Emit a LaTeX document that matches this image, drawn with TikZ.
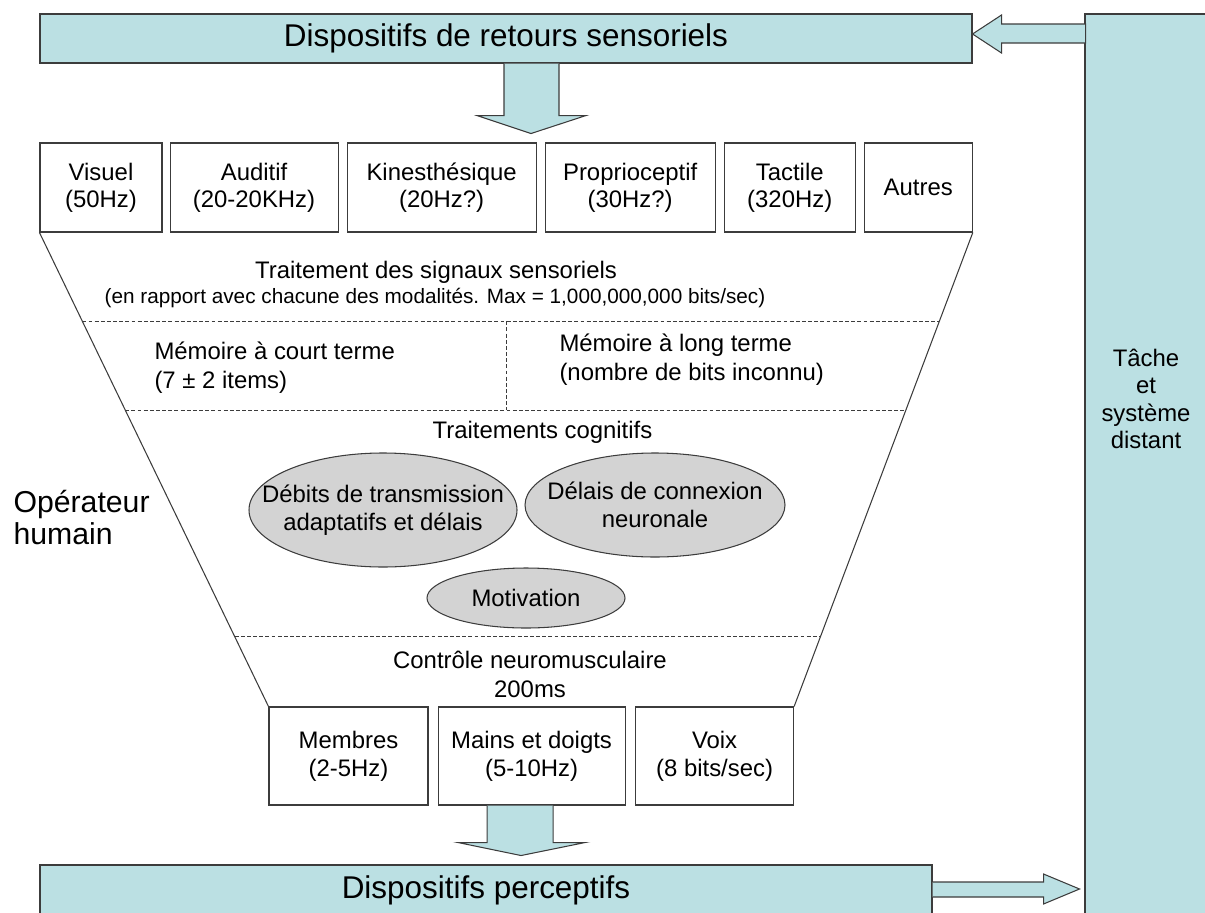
\documentclass[tikz,border=0pt]{standalone}
\usepackage{fontspec}
\setmainfont{Liberation Sans}
\usetikzlibrary{positioning,calc,shapes.geometric}

\definecolor{panelblue}{RGB}{187,224,227}
\definecolor{ovalgray}{RGB}{211,211,211}
\definecolor{edgegray}{RGB}{60,60,60}

\begin{document}
\begin{tikzpicture}[
    line width=0.6pt,
    bar/.style={rectangle, draw=edgegray, fill=panelblue, minimum height=0.98cm, font=\fontsize{17.9}{21}\selectfont},
    sense/.style={rectangle, draw=edgegray, minimum height=1.78cm, align=center, font=\fontsize{13.6}{15.4}\selectfont},
    effector/.style={rectangle, draw=edgegray, minimum height=1.96cm, align=center, font=\fontsize{13.6}{15.8}\selectfont},
    oval/.style={ellipse, draw=edgegray, fill=ovalgray, inner xsep=-1.5cm, inner ysep=-0.6cm, align=center, font=\fontsize{13.6}{16}\selectfont},
    txt/.style={inner sep=0pt, font=\fontsize{13.6}{16.5}\selectfont},
    sep/.style={draw=edgegray, line width=0.5pt, dash pattern=on 2.2pt off 1.3pt},
    blockarrow/.style={draw=edgegray, fill=panelblue, line join=miter}
]
\useasboundingbox (0,0) rectangle (24.1,-18.24);

% Retours sensoriels et systeme distant
\node[bar, minimum width=18.64cm] at (10.12,-0.77) (retours) {Dispositifs de retours sensoriels};
\node[rectangle, draw=edgegray, fill=panelblue, minimum width=2.44cm, minimum height=18.22cm] at (22.92,-9.39) (distant) {};
\node[txt, align=center, font=\fontsize{13.6}{15.6}\selectfont] at (22.92,-7.98) (tache) {Tâche\\et\\système\\distant};

% Modalites sensorielles
\node[sense, minimum width=2.44cm] at (2.02,-3.75) (visuel) {Visuel\\(50Hz)};
\node[sense, minimum width=3.36cm, right=0.14cm of visuel] (auditif) {Auditif\\(20-20KHz)};
\node[sense, minimum width=3.78cm, right=0.16cm of auditif] (kines) {Kinesthésique\\(20Hz?)};
\node[sense, minimum width=3.40cm, right=0.16cm of kines] (proprio) {Proprioceptif\\(30Hz?)};
\node[sense, minimum width=2.62cm, right=0.16cm of proprio] (tactile) {Tactile\\(320Hz)};
\node[sense, minimum width=2.16cm, right=0.16cm of tactile] (autres) {Autres};

% Sorties motrices
\node[effector, minimum width=3.18cm] at (6.97,-15.12) (membres) {Membres\\(2-5Hz)};
\node[effector, minimum width=3.74cm, right=0.18cm of membres] (mains) {Mains et doigts\\(5-10Hz)};
\node[effector, minimum width=3.16cm, right=0.19cm of mains] (voix) {Voix\\(8 bits/sec)};
\node[bar, minimum width=17.84cm, minimum height=1.0cm] at (9.72,-17.80) (percep) {Dispositifs perceptifs};

% Entonnoir
\draw[edgegray] (visuel.south west) -- (membres.north west);
\draw[edgegray] (autres.south east) -- (voix.north east);
\foreach \t/\n in {0.1874/sepa, 0.3747/sepb, 0.8526/sepc}
  \draw[sep] ($(visuel.south west)!\t!(membres.north west)$) coordinate (\n-l)
    -- ($(autres.south east)!\t!(voix.north east)$) coordinate (\n-r);
\draw[sep] (sepa-l -| retours.south) -- (sepb-l -| retours.south);

% Textes dans l'entonnoir
\node[txt] at (8.72,-5.44) (signaux) {Traitement des signaux sensoriels};
\node[txt, font=\fontsize{11.8}{14}\selectfont] at (8.70,-5.96) (modal) {(en rapport avec chacune des modalités. Max = 1,000,000,000 bits/sec)};
\node[txt, align=left, anchor=west] at (3.08,-7.35) (court) {Mémoire à court terme\\(7 ± 2 items)};
\node[txt, align=left, anchor=west] at (11.18,-7.20) (long) {Mémoire à long terme\\(nombre de bits inconnu)};
\node[txt] at (10.85,-8.64) (cognitif) {Traitements cognitifs};
\node[oval, minimum width=5.36cm, minimum height=2.28cm] at (7.66,-10.20) (debits) {Débits de transmission\\adaptatifs et délais};
\node[oval, minimum width=5.2cm, minimum height=2.08cm] at (13.10,-10.10) (delais) {Délais de connexion\\neuronale};
\node[oval, minimum width=3.96cm, minimum height=1.2cm] at (10.52,-11.96) (motiv) {Motivation};
\node[txt, align=center] at (10.60,-13.48) (neuro) {Contrôle neuromusculaire\\200ms};
\node[txt, align=left, anchor=west, font=\fontsize{17.2}{17.8}\selectfont] at (0.26,-10.35) (operateur) {Opérateur\\humain};

% Fleches pleines
\draw[blockarrow] (retours.south) ++(-0.04,0) -- ++(0,-1.04) -- ++(-0.54,0) -- ++(1.08,-0.36)
  -- ++(1.10,0.36) -- ++(-0.54,0) -- ++(0,1.04);
\draw[blockarrow] (retours.east) ++(0,0.09) -- ++(0.58,0.38) -- ++(0,-0.18) -- ++(1.68,0)
  -- ++(0,-0.38) -- ++(-1.68,0) -- ++(0,-0.20) -- cycle;
\draw[blockarrow] (mains.south) ++(-0.89,0) -- ++(0,-0.74) -- ++(-0.58,0) -- ++(1.26,-0.26)
  -- ++(1.28,0.26) -- ++(-0.64,0) -- ++(0,0.74);
\draw[blockarrow] (percep.east) ++(0,0.16) -- ++(2.22,0) -- ++(0,0.16) -- ++(0.72,-0.30)
  -- ++(-0.72,-0.30) -- ++(0,0.14) -- ++(-2.22,0);
\end{tikzpicture}
\end{document}
